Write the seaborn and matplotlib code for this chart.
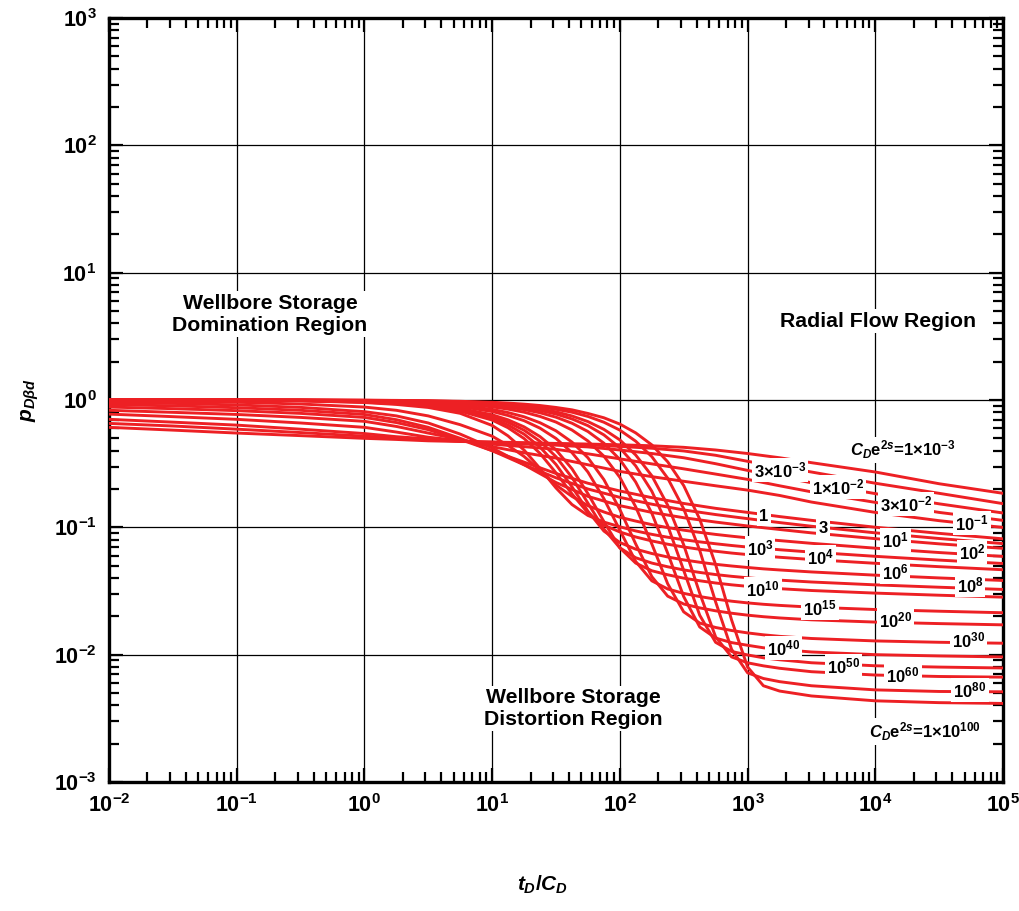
import numpy as np
import pandas as pd
import matplotlib
matplotlib.use("Agg")
import matplotlib.pyplot as plt
import seaborn as sns
from matplotlib.ticker import LogLocator, FuncFormatter, NullFormatter

# ---------------- data ----------------
# time grid for the gently varying curves (C_D e^2s <= 10)
t_cd = [0.01, 0.0316, 0.1, 0.316, 1.0, 1.78, 3.16, 5.62, 10.0, 17.8, 31.6, 56.2,
        100.0, 178.0, 316.0, 562.0, 1000.0, 1780.0, 3160.0, 10000.0, 31600.0, 100000.0]
# denser time grid for the steep curves (C_D e^2s >= 100)
t_cd_fine = [0.01, 0.0316, 0.1, 0.316, 1.0, 1.78, 3.16, 5.62, 10.0, 13.3, 17.8, 23.7,
             31.6, 42.2, 56.2, 75.0, 100.0, 133.0, 178.0, 237.0, 316.0, 422.0, 562.0,
             750.0, 1000.0, 1330.0, 1780.0, 3160.0, 10000.0, 31600.0, 100000.0]

cde2s_names = ["1e-3", "3e-3", "1e-2", "3e-2", "1e-1", "1", "3", "1e1", "1e2", "1e3",
               "1e4", "1e6", "1e8", "1e10", "1e15", "1e20", "1e30", "1e40", "1e50",
               "1e60", "1e80", "1e100"]

p_1em3 = [0.61, 0.58, 0.55, 0.525, 0.50, 0.49, 0.478, 0.472, 0.468, 0.462, 0.456, 0.451,
          0.445, 0.437, 0.425, 0.405, 0.38, 0.352, 0.322, 0.272, 0.22, 0.185]
p_3em3 = [0.655, 0.625, 0.59, 0.555, 0.52, 0.502, 0.487, 0.475, 0.466, 0.459, 0.452, 0.444,
          0.432, 0.418, 0.398, 0.368, 0.33, 0.30, 0.272, 0.222, 0.185, 0.1535]
p_1em2 = [0.705, 0.67, 0.635, 0.59, 0.545, 0.515, 0.495, 0.477, 0.46, 0.452, 0.442, 0.428,
          0.405, 0.38, 0.352, 0.316, 0.28, 0.25, 0.224, 0.184, 0.153, 0.1296]
p_3em2 = [0.775, 0.74, 0.705, 0.66, 0.61, 0.56, 0.51, 0.48, 0.45, 0.43, 0.41, 0.378,
          0.345, 0.315, 0.288, 0.262, 0.238, 0.212, 0.19, 0.157, 0.131, 0.1134]
p_1em1 = [0.83, 0.80, 0.77, 0.73, 0.68, 0.62, 0.55, 0.49, 0.43, 0.385, 0.35, 0.31,
          0.275, 0.25, 0.23, 0.212, 0.196, 0.178, 0.158, 0.131, 0.1128, 0.0998]
p_1 = [0.88, 0.855, 0.825, 0.785, 0.73, 0.665, 0.585, 0.49, 0.40, 0.325, 0.265, 0.222,
       0.193, 0.171, 0.154, 0.141, 0.131, 0.1215, 0.1135, 0.1002, 0.0897, 0.0812]
p_3 = [0.92, 0.90, 0.87, 0.83, 0.77, 0.70, 0.61, 0.50, 0.40, 0.31, 0.245, 0.20,
       0.172, 0.152, 0.137, 0.126, 0.117, 0.109, 0.102, 0.0905, 0.0817, 0.0745]
p_1e1 = [0.955, 0.94, 0.915, 0.875, 0.81, 0.75, 0.66, 0.54, 0.42, 0.31, 0.225, 0.175,
         0.148, 0.131, 0.119, 0.110, 0.1025, 0.0962, 0.0905, 0.0815, 0.0742, 0.0684]

p_1e2 = [0.985, 0.975, 0.96, 0.93, 0.88, 0.83, 0.75, 0.64, 0.52, 0.44, 0.36, 0.28,
         0.215, 0.175, 0.148, 0.132, 0.12, 0.112, 0.105, 0.0995, 0.095, 0.0913, 0.088,
         0.0852, 0.0827, 0.0806, 0.0787, 0.0749, 0.0686, 0.0634, 0.0591]
p_1e3 = [0.998, 0.997, 0.995, 0.985, 0.955, 0.923, 0.874, 0.786, 0.631, 0.523, 0.404, 0.290,
         0.204, 0.151, 0.124, 0.110, 0.101, 0.0937, 0.0881, 0.0836, 0.0799, 0.0769, 0.0743,
         0.072, 0.070, 0.0683, 0.0667, 0.0639, 0.0592, 0.0553, 0.052]
p_1e4 = [0.9997, 0.9989, 0.996, 0.988, 0.962, 0.935, 0.894, 0.818, 0.696, 0.606, 0.498, 0.381,
         0.268, 0.183, 0.130, 0.104, 0.092, 0.084, 0.0782, 0.0737, 0.0701, 0.0672, 0.0649,
         0.0628, 0.0611, 0.0596, 0.0582, 0.0559, 0.0522, 0.0491, 0.04645]
p_1e6 = [0.9996, 0.9987, 0.9965, 0.989, 0.966, 0.940, 0.898, 0.830, 0.717, 0.637, 0.539, 0.427,
         0.312, 0.208, 0.134, 0.0935, 0.076, 0.0674, 0.0623, 0.0585, 0.0555, 0.0532, 0.05124,
         0.0497, 0.04838, 0.0472, 0.04627, 0.04464, 0.04212, 0.04006, 0.03826]
p_1e8 = [0.9996, 0.9989, 0.997, 0.990, 0.969, 0.947, 0.909, 0.845, 0.743, 0.669, 0.579, 0.474,
         0.359, 0.246, 0.155, 0.097, 0.069, 0.0577, 0.0524, 0.049, 0.0463, 0.04424, 0.04257,
         0.04124, 0.04017, 0.03924, 0.03849, 0.03722, 0.03534, 0.03386, 0.03253]
p_1e10 = [0.9997, 0.999, 0.997, 0.991, 0.973, 0.953, 0.918, 0.860, 0.766, 0.699, 0.615, 0.516,
          0.406, 0.288, 0.184, 0.111, 0.069, 0.0524, 0.0456, 0.0424, 0.0399, 0.03805, 0.03655,
          0.03536, 0.0344, 0.03361, 0.03298, 0.03191, 0.03044, 0.0293, 0.02829]
p_1e15 = [1.0, 0.9993, 0.998, 0.995, 0.979, 0.964, 0.936, 0.889, 0.812, 0.756, 0.688, 0.601,
          0.499, 0.386, 0.272, 0.168, 0.095, 0.054, 0.038, 0.0328, 0.0303, 0.0286, 0.0273,
          0.0263, 0.0255, 0.02487, 0.02438, 0.02361, 0.02263, 0.02194, 0.02134]
p_1e20 = [1.0, 0.9994, 0.998, 0.9944, 0.983, 0.971, 0.948, 0.909, 0.843, 0.797, 0.738, 0.663,
          0.573, 0.467, 0.352, 0.237, 0.138, 0.0741, 0.041, 0.0288, 0.025, 0.0233, 0.0221,
          0.02116, 0.02043, 0.01987, 0.01943, 0.01878, 0.01803, 0.01754, 0.01715]
p_1e30 = [1.0, 0.9996, 0.9987, 0.996, 0.988, 0.978, 0.961, 0.934, 0.883, 0.848, 0.802, 0.743,
          0.671, 0.581, 0.477, 0.362, 0.247, 0.145, 0.074, 0.036, 0.0217, 0.0177, 0.01635,
          0.01548, 0.01482, 0.01432, 0.01393, 0.0134, 0.01282, 0.01251, 0.0123]
p_1e40 = [1.0, 0.9997, 0.999, 0.997, 0.990, 0.983, 0.969, 0.946, 0.908, 0.879, 0.841, 0.794,
          0.733, 0.657, 0.566, 0.458, 0.341, 0.227, 0.129, 0.0626, 0.0286, 0.0165, 0.0135,
          0.01244, 0.01185, 0.01133, 0.01099, 0.0105, 0.0100, 0.00977, 0.0096]
p_1e50 = [1.0, 0.9997, 0.9992, 0.9975, 0.992, 0.986, 0.975, 0.956, 0.924, 0.900, 0.868, 0.828,
          0.776, 0.710, 0.629, 0.532, 0.421, 0.304, 0.192, 0.103, 0.046, 0.0204, 0.0125,
          0.0106, 0.00995, 0.00945, 0.00912, 0.00864, 0.00818, 0.00799, 0.00786]
p_1e60 = [1.0, 0.9998, 0.9993, 0.998, 0.9933, 0.988, 0.979, 0.963, 0.934, 0.914, 0.886, 0.852,
          0.807, 0.749, 0.677, 0.588, 0.486, 0.370, 0.254, 0.149, 0.073, 0.0304, 0.0138,
          0.0096, 0.00863, 0.00817, 0.00782, 0.00735, 0.00692, 0.00674, 0.00666]
p_1e80 = [1.0, 0.9998, 0.9995, 0.998, 0.995, 0.991, 0.984, 0.971, 0.950, 0.933, 0.911, 0.885,
          0.845, 0.802, 0.743, 0.669, 0.580, 0.475, 0.359, 0.243, 0.140, 0.066, 0.026,
          0.011, 0.0072, 0.0065, 0.00614, 0.0057, 0.00529, 0.00514, 0.00511]
p_1e100 = [1.0, 1.0, 0.9996, 0.9987, 0.996, 0.993, 0.987, 0.977, 0.959, 0.946, 0.928, 0.905,
           0.874, 0.837, 0.784, 0.725, 0.647, 0.552, 0.444, 0.327, 0.213, 0.116, 0.051,
           0.0187, 0.0080, 0.0057, 0.00518, 0.00474, 0.00434, 0.0042, 0.00414]

curve_values = [p_1em3, p_3em3, p_1em2, p_3em2, p_1em1, p_1, p_3, p_1e1, p_1e2, p_1e3,
                p_1e4, p_1e6, p_1e8, p_1e10, p_1e15, p_1e20, p_1e30, p_1e40, p_1e50,
                p_1e60, p_1e80, p_1e100]

curve_labels = [
    r"$\mathit{C}_{\mathit{D}}\mathrm{e}^{2\mathit{s}}$=1×10$^{-3}$",
    r"3×10$^{-3}$", r"1×10$^{-2}$", r"3×10$^{-2}$", r"10$^{-1}$",
    "1", "3", r"10$^{1}$", r"10$^{2}$", r"10$^{3}$", r"10$^{4}$", r"10$^{6}$", r"10$^{8}$",
    r"10$^{10}$", r"10$^{15}$", r"10$^{20}$", r"10$^{30}$", r"10$^{40}$", r"10$^{50}$",
    r"10$^{60}$", r"10$^{80}$",
    r"$\mathit{C}_{\mathit{D}}\mathrm{e}^{2\mathit{s}}$=1×10$^{100}$",
]
label_x = [16500, 1800, 5120, 17400, 57300, 1346, 3900, 14300, 57300, 1253, 3700, 14300,
           55200, 1320, 3700, 14300, 53300, 1900, 5600, 16500, 55200, 24500]
label_y = [0.404, 0.281, 0.207, 0.152, 0.108, 0.1225, 0.0986, 0.0793, 0.0638, 0.0687, 0.0583,
           0.0445, 0.0352, 0.0327, 0.0232, 0.0187, 0.013, 0.01125, 0.00813, 0.0069, 0.00526,
           0.0025]

rows = []
for name, vals in zip(cde2s_names, curve_values):
    grid = t_cd if len(vals) == len(t_cd) else t_cd_fine
    for t, p in zip(grid, vals):
        rows.append((name, t, p))
df = pd.DataFrame(rows, columns=["curve", "t", "p"])

# ---------------- style ----------------
sns.set_style("ticks")
plt.rcParams["font.family"] = ["Liberation Sans", "DejaVu Sans"]
plt.rcParams["font.weight"] = "bold"
plt.rcParams["text.color"] = "black"
plt.rcParams["axes.labelcolor"] = "black"
plt.rcParams["xtick.color"] = "black"
plt.rcParams["ytick.color"] = "black"
plt.rcParams["mathtext.fontset"] = "custom"
plt.rcParams["mathtext.rm"] = "Liberation Sans:bold"
plt.rcParams["mathtext.bf"] = "Liberation Sans:bold"
plt.rcParams["mathtext.it"] = "Liberation Sans:bold:italic"
plt.rcParams["mathtext.sf"] = "Liberation Sans:bold"
plt.rcParams["mathtext.default"] = "rm"

red = "#ED2024"

fig = plt.figure(figsize=(10.2, 9.11), dpi=100)
ax = fig.add_axes([0.10686, 0.1416, 0.87647, 0.83864])

sns.lineplot(data=df, x="t", y="p", hue="curve", hue_order=cde2s_names,
             palette=[red] * len(cde2s_names), legend=False, sort=False,
             estimator=None, linewidth=2.1, ax=ax, zorder=3)

ax.set_xscale("log")
ax.set_yscale("log")
ax.set_xlim(1e-2, 1e5)
ax.set_ylim(1e-3, 1e3)

ax.grid(which="major", color="black", linewidth=0.9)
ax.set_axisbelow(True)

fmt = FuncFormatter(lambda v, pos: r"10$^{%d}$" % int(round(np.log10(v))))
for axis in (ax.xaxis, ax.yaxis):
    axis.set_major_locator(LogLocator(base=10, numticks=20))
    axis.set_minor_locator(LogLocator(base=10, subs=np.arange(2, 10), numticks=20))
    axis.set_major_formatter(fmt)
    axis.set_minor_formatter(NullFormatter())

ax.tick_params(which="both", direction="in", top=True, right=True, width=1.6)
ax.tick_params(which="major", length=10, labelsize=15.5, pad=9)
ax.tick_params(which="minor", length=7)
for s in ax.spines.values():
    s.set_linewidth(2.4)
    s.set_color("black")

ax.set_xlabel(r"$\mathit{t}_{\mathit{D}}\mathit{/C}_{\mathit{D}}$", fontsize=15, va="center")
ax.xaxis.set_label_coords(0.4855, -0.135)
ax.set_ylabel(r"$\mathit{p}_{\mathit{D\beta d}}$", fontsize=15, va="center")
ax.yaxis.set_label_coords(-0.088, 0.5)

for txt, x, y in zip(curve_labels, label_x, label_y):
    ax.text(x, y, txt, ha="center", va="center", fontsize=12, fontweight="bold",
            zorder=5, bbox=dict(boxstyle="square,pad=0.12", fc="white", ec="none"))

region_box = dict(boxstyle="square,pad=0.1", fc="white", ec="none")
ax.text(0.182, 4.73, "Wellbore Storage\nDomination Region", ha="center", va="center",
        fontsize=15.3, fontweight="bold", linespacing=1.2, zorder=5, bbox=region_box)
ax.text(10500, 4.17, "Radial Flow Region", ha="center", va="center",
        fontsize=15.3, fontweight="bold", zorder=5, bbox=region_box)
ax.text(43, 0.0038, "Wellbore Storage\nDistortion Region", ha="center", va="center",
        fontsize=15.3, fontweight="bold", linespacing=1.2, zorder=5, bbox=region_box)

fig.savefig("out.png", dpi=100)
